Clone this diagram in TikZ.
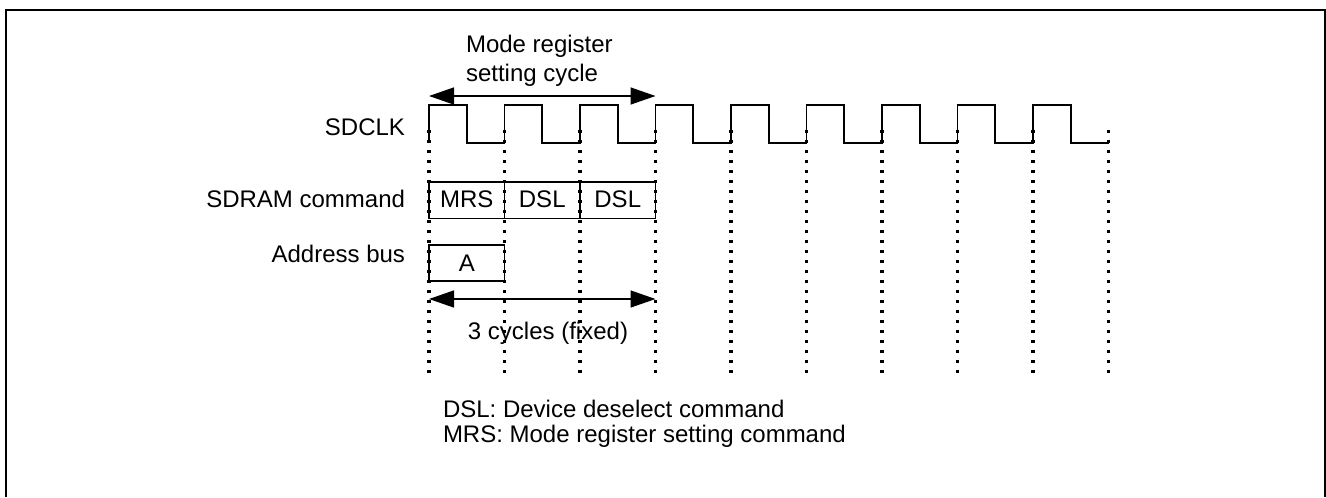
\documentclass[tikz,border=0pt]{standalone}
\usepackage{fontspec}
\setmainfont{Liberation Sans}
\usetikzlibrary{arrows.meta}

\begin{document}
\begin{tikzpicture}[x=0.75pt,y=-0.75pt,
  every node/.style={inner sep=0pt,outer sep=0pt},
  lbl/.style={font=\fontsize{18}{21.5}\selectfont},
  note/.style={font=\fontsize{18}{18.5}\selectfont},
  sig/.style={line width=1.3pt,line join=miter},
  cell/.style={draw,line width=1.1pt,minimum width=56.625pt,minimum height=27.5pt,anchor=north west},
  tick/.style={line width=2.3pt,dash pattern=on 2.3pt off 5.2pt},
  span/.style={line width=1.1pt,{Triangle[length=18.75pt,width=12.75pt]}-{Triangle[length=18.75pt,width=12.75pt]}},
  frame/.style={line width=1.5pt}]

\useasboundingbox (0,0) rectangle (1326,497);

% outer frame, open at the bottom
\draw[frame] (6,497) -- (6,10) -- (1324.5,10) -- (1324.5,497);

% clock period and first rising edge
\def\tper{75.5}
\def\tzero{429}

% SDCLK waveform
\draw[sig] (\tzero,143)
  \foreach \k in {0,...,8}{
    -- ({\tzero+\k*\tper},105) -- ({\tzero+\k*\tper+37.75},105)
    -- ({\tzero+\k*\tper+37.75},143) -- ({\tzero+(\k+1)*\tper},143)
  };

% signal names
\node[lbl,anchor=base east] (nclk) at (405,135) {SDCLK};
\node[lbl,anchor=base east] (ncmd) at (405,207) {SDRAM command};
\node[lbl,anchor=base east] (nadr) at (405,262.5) {Address bus};

% SDRAM command cells
\node[cell] (mrs) at (429,182) {};
\node[cell] (dsla) at (504.5,182) {};
\node[cell] (dslb) at (580,182) {};
\node[lbl,anchor=base] (tmrs) at (466.75,207) {MRS};
\node[lbl,anchor=base] (tdsla) at (542.25,207) {DSL};
\node[lbl,anchor=base] (tdslb) at (617.75,207) {DSL};

% address bus cell
\node[cell,minimum height=27pt] (adr) at (429,245) {};
\node[lbl,anchor=base] (tadr) at (466.75,271) {A};

% dotted edge markers
\foreach \k in {0,...,9}{
  \draw[tick] ({\tzero+\k*\tper},130) -- ({\tzero+\k*\tper},374);
}

% span arrows
\coordinate (ta) at (429,96);
\coordinate (tb) at (655.5,96);
\draw[span] (ta) -- (tb);
\coordinate (ba) at (429,299);
\coordinate (bb) at (655.5,299);
\draw[span] (ba) -- (bb);

% multi-line nodes sit on the baseline of their last line
\node[lbl,align=left,anchor=base west] (tmode) at (466,81.5) {Mode register\\setting cycle};
\node[lbl,anchor=base] (tcyc) at (548,339) {3 cycles (fixed)};

% legend
\node[note,align=left,anchor=base west] (legend) at (443,442) {DSL: Device deselect command\\MRS: Mode register setting command};
\end{tikzpicture}
\end{document}
